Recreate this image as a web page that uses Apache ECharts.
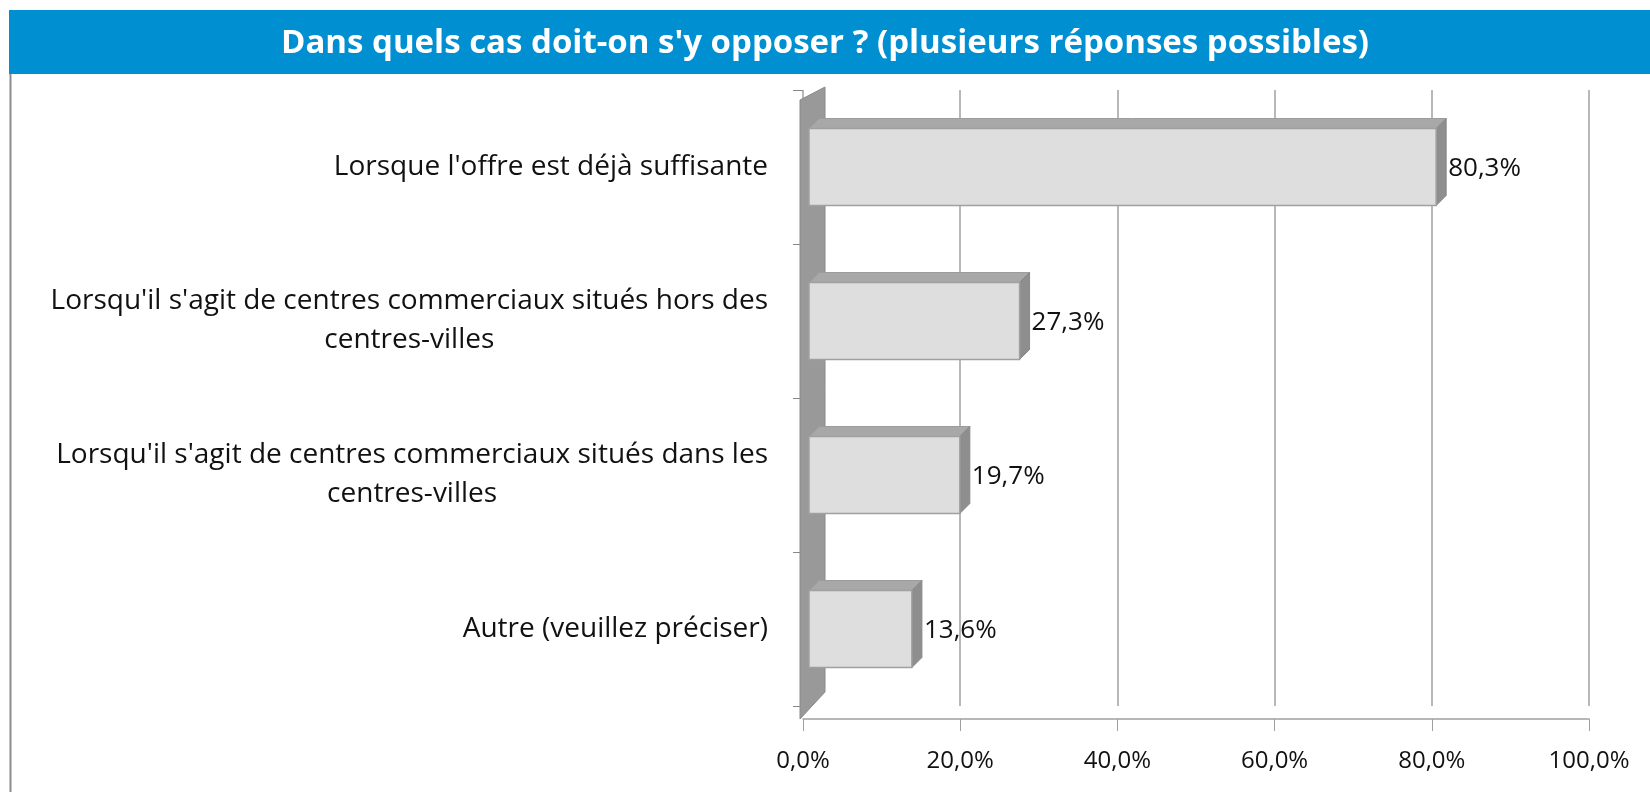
<!DOCTYPE html>
<html>
<head>
<meta charset="utf-8">
<script src="https://cdn.jsdelivr.net/npm/echarts@6/dist/echarts.min.js"></script>
<style>
  html, body { margin: 0; padding: 0; background: #fff; }
  #chart { width: 1650px; height: 792px; }
</style>
</head>
<body>
<div id="chart"></div>
<script>
var titre = "Dans quels cas doit-on s'y opposer ? (plusieurs réponses possibles)";
var categories = [
    "Lorsque l'offre est déjà suffisante",
    "Lorsqu'il s'agit de centres commerciaux situés hors des\ncentres-villes",
    "Lorsqu'il s'agit de centres commerciaux situés dans les\ncentres-villes",
    "Autre (veuillez préciser)"
];
var valeurs = [80.3, 27.3, 19.7, 13.6];
var ticks = [0, 20, 40, 60, 80, 100];

function pct(v) {
    return v.toFixed(1).replace('.', ',') + '%';
}

var myChart = echarts.init(document.getElementById('chart'));

// boite 3D facon Excel
function renderBox(params, api) {
    var v = api.value(0), c = api.value(1);
    var p0 = api.coord([0, c]);
    var p1 = api.coord([v, c]);
    var h = api.size([0, 1])[1] * 0.5;
    var d = 10;
    var x = p0[0] + 6, y = p0[1] - h / 2, w = p1[0] - p0[0] - 4;
    var children = [];
    if (params.dataIndex === 0) {
        // mur gauche
        var cs = params.coordSys;
        children.push({
            type: 'polygon',
            shape: { points: [[cs.x - 3, cs.y + 10], [cs.x + 22, cs.y - 3], [cs.x + 22, cs.y + cs.height - 14], [cs.x - 3, cs.y + cs.height + 13]] },
            style: { fill: '#999999', stroke: '#8a8a8a', lineWidth: 1 }
        });
    }
    children.push(
        {
            type: 'polygon',
            shape: { points: [[x, y], [x + d, y - d], [x + w + d, y - d], [x + w, y]] },
            style: { fill: '#a8a8a8', stroke: '#9c9c9c', lineWidth: 1 }
        },
        {
            type: 'polygon',
            shape: { points: [[x + w, y], [x + w + d, y - d], [x + w + d, y + h - d], [x + w, y + h]] },
            style: { fill: '#8e8e8e', stroke: '#888', lineWidth: 1 }
        },
        {
            type: 'rect',
            shape: { x: x, y: y, width: w, height: h },
            style: { fill: '#dedede', stroke: '#a0a0a0', lineWidth: 1.5 }
        },
        {
            type: 'text',
            style: {
                x: x + w + d + 2, y: p0[1] + 2,
                text: pct(v),
                fill: '#111', fontSize: 26, fontFamily: 'Open Sans',
                align: 'left', verticalAlign: 'middle'
            }
        }
    );
    return { type: 'group', children: children };
}

myChart.setOption({
    backgroundColor: '#fff',
    graphic: [
        { type: 'rect', left: 8, top: 9, shape: { width: 1660, height: 800 }, style: { fill: 'none', stroke: '#8c8c8c', lineWidth: 2 }, z: -1 },
        { type: 'rect', left: 9, top: 10, shape: { width: 1660, height: 64 }, style: { fill: '#0090d2' } },
        { type: 'text', left: 'center', top: 27, style: { text: titre, fill: '#fff', fontSize: 33, fontWeight: 'bold', fontFamily: 'Open Sans' } }
    ],
    grid: { left: 803, right: 61, top: 90, bottom: 86 },
    xAxis: {
        type: 'value',
        min: 0, max: 100, interval: 20,
        offset: 13,
        axisLine: { show: true, lineStyle: { color: '#a0a0a0', width: 1.5 } },
        axisTick: { show: true, length: 12, inside: false, lineStyle: { color: '#a0a0a0' } },
        splitLine: { show: true, lineStyle: { color: '#a0a0a0', width: 1.5 } },
        axisLabel: {
            margin: 30,
            color: '#111', fontSize: 24, fontFamily: 'Open Sans',
            formatter: function (v) { return ticks.indexOf(v) >= 0 ? pct(v) : ''; }
        }
    },
    yAxis: {
        type: 'category',
        data: categories,
        inverse: true,
        axisLine: { show: false },
        axisTick: { show: true, length: 10, lineStyle: { color: '#888' } },
        axisLabel: {
            margin: 35,
            align: 'right',
            color: '#111', fontSize: 28, fontFamily: 'Open Sans', lineHeight: 39,
            formatter: function (s) {
                return s.split('\n').map(function (l) { return '{c|' + l + '}'; }).join('\n');
            },
            rich: { c: { align: 'center', fontSize: 28, fontFamily: 'Open Sans', color: '#111', lineHeight: 39 } }
        }
    },
    series: [{
        type: 'custom',
        renderItem: renderBox,
        encode: { x: 0, y: 1 },
        data: valeurs.map(function (v, i) { return [v, i]; })
    }]
});
</script>
</body>
</html>
